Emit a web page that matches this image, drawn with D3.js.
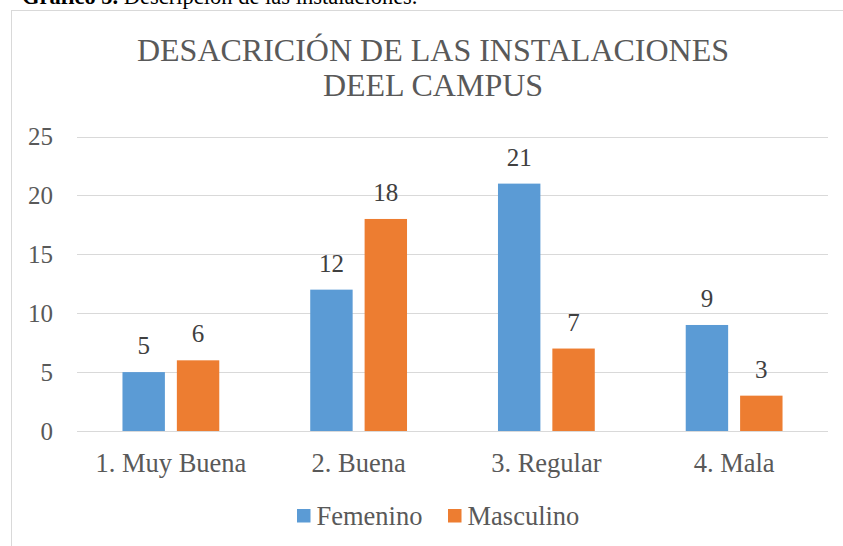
<!DOCTYPE html>
<html>
<head>
<meta charset="utf-8">
<script src="https://cdn.jsdelivr.net/npm/d3@7"></script>
<style>
    body { margin: 0; background: #fff; }
</style>
</head>
<body>
<svg id="chart"></svg>
<script>
// datos del grafico
const categorias = ["1. Muy Buena", "2. Buena", "3. Regular", "4. Mala"];
const series = ["Femenino", "Masculino"];
const femenino = [5, 12, 21, 9];
const masculino = [6, 18, 7, 3];
const yTicks = [0, 5, 10, 15, 20, 25];
const colores = ["#5B9BD5", "#ED7D31"];
const titulo = ["DESACRICIÓN DE LAS INSTALACIONES", "DEEL CAMPUS"];

const fuente = "Liberation Serif";
const width = 843, height = 546;
const margin = { left: 77, right: 15, top: 136.5, bottom: 115 };

const svg = d3.select("#chart")
    .attr("width", width)
    .attr("height", height)
    .attr("font-family", fuente);

// pie de figura (cortado arriba)
const caption = svg.append("text")
    .attr("x", 22)
    .attr("y", 4)
    .attr("font-family", fuente)
    .attr("font-size", 22.5)
    .attr("fill", "#000");
caption.append("tspan").attr("font-weight", "bold").text("Gráfico 5.");
caption.append("tspan").text(" Descripción de las instalaciones.");

// borde del area del grafico
svg.append("rect")
    .attr("x", 11.5)
    .attr("y", 10.5)
    .attr("width", 900)
    .attr("height", 600)
    .attr("fill", "none")
    .attr("stroke", "#d9d9d9")
    .attr("stroke-width", 1);

// titulo
titulo.forEach((t, i) => {
    svg.append("text")
        .attr("x", 433)
        .attr("y", 61 + i * 35)
        .attr("text-anchor", "middle")
        .attr("font-family", fuente)
        .attr("font-size", 32)
        .attr("fill", "#595959")
        .text(t);
});

//scales
const x0 = d3.scaleBand()
    .domain(categorias)
    .range([margin.left, width - margin.right]);

const grupoAncho = 96.8;
const x1 = d3.scaleBand()
    .domain(series)
    .range([0, grupoAncho])
    .paddingInner(0.22);

const yScale = d3.scaleLinear()
    .domain([0, 25])
    .range([height - margin.bottom, margin.top]);

// gridlines
svg.append("g")
    .selectAll("line")
    .data(yTicks)
    .enter()
    .append("line")
        .attr("x1", margin.left)
        .attr("x2", width - margin.right)
        .attr("y1", d => Math.round(yScale(d)) + 0.5)
        .attr("y2", d => Math.round(yScale(d)) + 0.5)
        .attr("stroke", "#d9d9d9")
        .attr("stroke-width", 1);

// eje y
const yAxis = d3.axisLeft(yScale).tickValues(yTicks).tickSize(0).tickPadding(0);
const gy = svg.append("g")
    .attr("id", "y-axis")
    .attr("transform", `translate(53,0)`)
    .call(yAxis)
    .attr("font-family", fuente);
gy.select(".domain").remove();
gy.selectAll("text")
    .attr("font-family", fuente)
    .attr("font-size", 25)
    .attr("fill", "#595959")
    .attr("dy", "0.32em");

// eje x
const xAxis = d3.axisBottom(x0).tickSize(0).tickPadding(0);
const gx = svg.append("g")
    .attr("id", "x-axis")
    .attr("transform", `translate(0,${yScale(0)})`)
    .call(xAxis)
    .attr("font-family", fuente);
gx.select(".domain").remove();
gx.selectAll("text")
    .attr("font-family", fuente)
    .attr("font-size", 26.5)
    .attr("fill", "#595959")
    .attr("dy", null)
    .attr("y", 41);

// barras
const filas = categorias.map((c, i) => ({ cat: c, valores: [femenino[i], masculino[i]] }));
const offset = (x0.bandwidth() - grupoAncho) / 2;

const grupos = svg.append("g")
    .selectAll("g")
    .data(filas)
    .enter()
    .append("g")
        .attr("transform", d => `translate(${x0(d.cat) + offset},0)`);

grupos.selectAll("rect")
    .data(d => d.valores.map((v, j) => ({ serie: series[j], valor: v, j: j })))
    .enter()
    .append("rect")
        .attr("x", d => x1(d.serie))
        .attr("y", d => yScale(d.valor))
        .attr("width", x1.bandwidth())
        .attr("height", d => yScale(0) - yScale(d.valor))
        .attr("fill", d => colores[d.j]);

// etiquetas de valores
grupos.selectAll(".valor")
    .data(d => d.valores.map((v, j) => ({ serie: series[j], valor: v })))
    .enter()
    .append("text")
        .attr("class", "valor")
        .attr("x", d => x1(d.serie) + x1.bandwidth() / 2)
        .attr("y", d => yScale(d.valor) - 18)
        .attr("text-anchor", "middle")
        .attr("font-family", fuente)
        .attr("font-size", 25)
        .attr("fill", "#404040")
        .text(d => d.valor);

// leyenda
const leyendaX = [297, 448];
const leyenda = svg.append("g")
    .selectAll("g")
    .data(series)
    .enter()
    .append("g")
        .attr("transform", (d, i) => `translate(${leyendaX[i]},509)`);

leyenda.append("rect")
    .attr("width", 13.5)
    .attr("height", 13.5)
    .attr("fill", (d, i) => colores[i]);

leyenda.append("text")
    .attr("x", 19.5)
    .attr("y", 16)
    .attr("font-family", fuente)
    .attr("font-size", 26.5)
    .attr("fill", "#595959")
    .text(d => d);
</script>
</body>
</html>
